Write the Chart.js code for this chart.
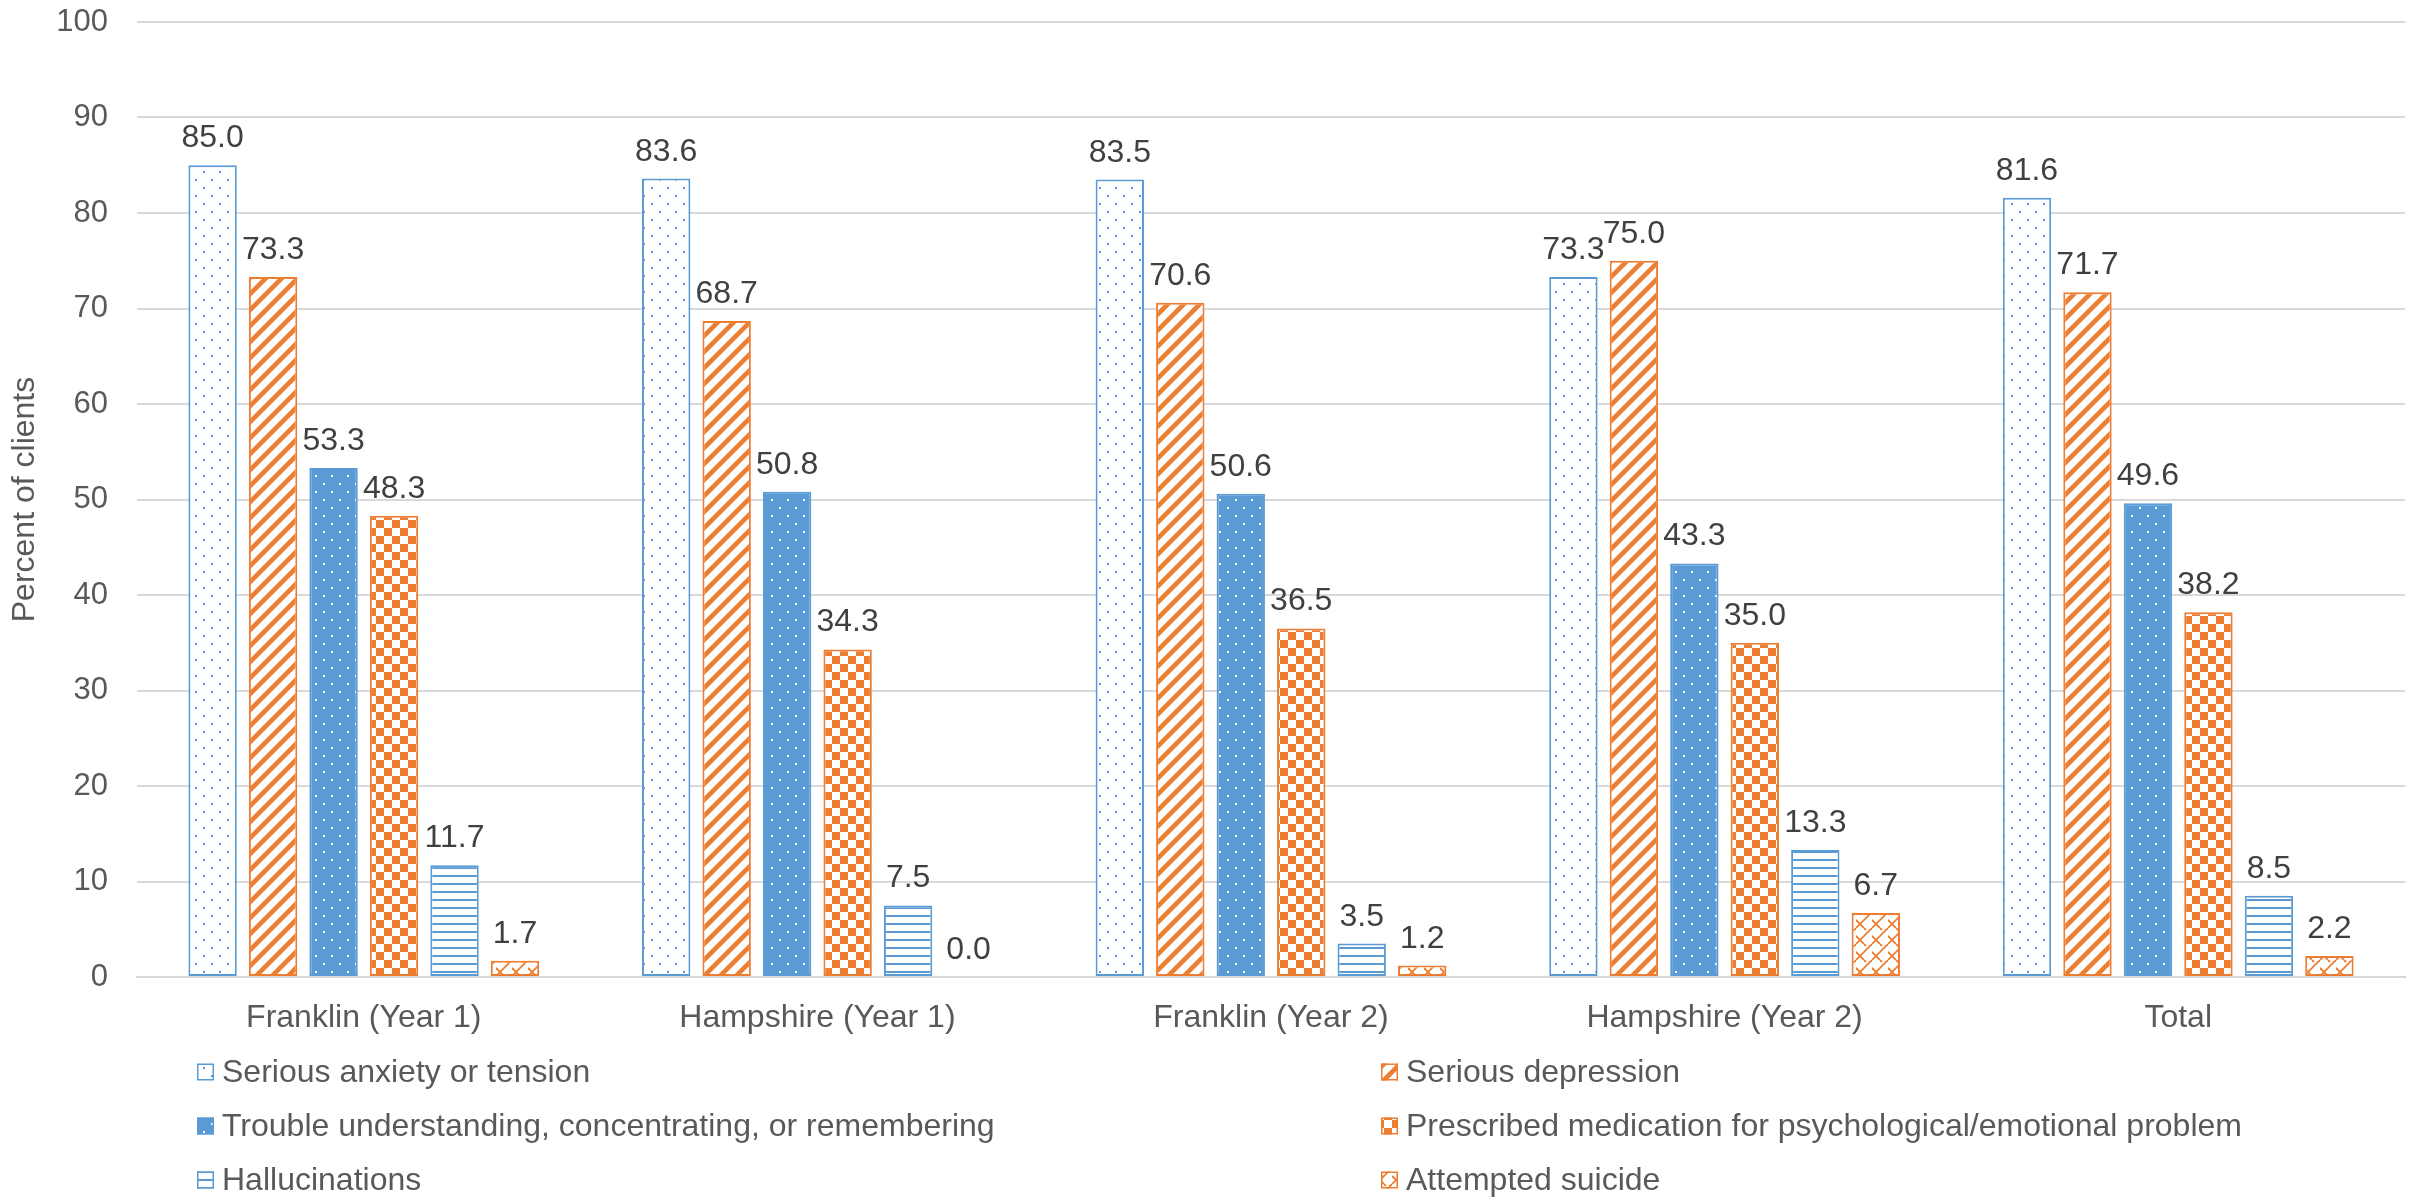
<!DOCTYPE html>
<html>
<head>
<meta charset="utf-8">
<title>Mental health indicators by site</title>
<script src="https://cdn.jsdelivr.net/npm/chart.js@4/dist/chart.umd.min.js"></script>
<style>
  html, body { margin: 0; padding: 0; background: #ffffff; }
  #wrap { width: 2423px; height: 1197px; }
</style>
</head>
<body>
<div id="wrap"><canvas id="chart" width="2423" height="1197"></canvas></div>
<script>
// Sites / years shown along the x axis
const categories = ['Franklin (Year 1)', 'Hampshire (Year 1)', 'Franklin (Year 2)', 'Hampshire (Year 2)', 'Total'];

// Percent of clients reporting each problem
const anxiety        = [85.0, 83.6, 83.5, 73.3, 81.6];
const depression     = [73.3, 68.7, 70.6, 75.0, 71.7];
const trouble        = [53.3, 50.8, 50.6, 43.3, 49.6];
const medication     = [48.3, 34.3, 36.5, 35.0, 38.2];
const hallucinations = [11.7, 7.5, 3.5, 13.3, 8.5];
const suicide        = [1.7, 0.0, 1.2, 6.7, 2.2];

const seriesLabels = [
  'Serious anxiety or tension',
  'Serious depression',
  'Trouble understanding, concentrating, or remembering',
  'Prescribed medication for psychological/emotional problem',
  'Hallucinations',
  'Attempted suicide'
];

const yMin = 0, yMax = 100, yStep = 10;
const yTitle = 'Percent of clients';

const BLUE = '#5b9bd5';
const ORANGE = '#ed7d31';
const FONT = '"Liberation Sans", Arial, sans-serif';

// ---- fill patterns -------------------------------------------------------
function tile(draw) {
  const c = document.createElement('canvas');
  c.width = 16; c.height = 16;
  const g = c.getContext('2d');
  draw(g);
  return document.getElementById('chart').getContext('2d').createPattern(c, 'repeat');
}

const patDots = tile(g => {
  g.fillStyle = '#fff'; g.fillRect(0, 0, 16, 16);
  g.fillStyle = BLUE;
  g.fillRect(3, 3, 2, 2); g.fillRect(11, 11, 2, 2);
});
const patStripes = tile(g => {
  g.fillStyle = '#fff'; g.fillRect(0, 0, 16, 16);
  g.strokeStyle = ORANGE; g.lineWidth = 4.6; g.lineCap = 'square';
  for (let k = -1; k <= 1; k++) {
    g.beginPath(); g.moveTo(k * 16 - 2, 18); g.lineTo(k * 16 + 18, -2); g.stroke();
  }
});
const patSolidDots = tile(g => {
  g.fillStyle = BLUE; g.fillRect(0, 0, 16, 16);
  g.fillStyle = '#fff';
  g.fillRect(3, 3, 2, 2); g.fillRect(11, 11, 2, 2);
});
const patChecker = tile(g => {
  g.fillStyle = '#fff'; g.fillRect(0, 0, 16, 16);
  g.fillStyle = ORANGE;
  g.fillRect(0, 0, 8, 8); g.fillRect(8, 8, 8, 8);
});
const patHLines = tile(g => {
  g.fillStyle = '#fff'; g.fillRect(0, 0, 16, 16);
  g.fillStyle = BLUE;
  g.fillRect(0, 3, 16, 2); g.fillRect(0, 11, 16, 2);
});
// trellis of up-diagonals with short down-strokes
const patShingle = tile(g => {
  g.fillStyle = '#fff'; g.fillRect(0, 0, 16, 16);
  g.strokeStyle = ORANGE; g.lineWidth = 1.8;
  for (let k = -1; k <= 1; k++) {
    g.beginPath(); g.moveTo(k * 16, 16); g.lineTo(k * 16 + 16, 0); g.stroke();
  }
  g.beginPath(); g.moveTo(0, 8); g.lineTo(8, 16); g.stroke();
  g.beginPath(); g.moveTo(8, 0); g.lineTo(10, 2); g.stroke();
});

const seriesData = [anxiety, depression, trouble, medication, hallucinations, suicide];
const fills = [patDots, patStripes, patSolidDots, patChecker, patHLines, patShingle];
const strokes = [BLUE, ORANGE, BLUE, ORANGE, BLUE, ORANGE];

const datasets = seriesData.map((d, i) => ({
  label: seriesLabels[i],
  data: d,
  backgroundColor: fills[i],
  borderColor: strokes[i],
  borderWidth: 2,
  borderSkipped: false,
  categoryPercentage: 0.8,
  barPercentage: 0.8
}));

// ---- value labels above each bar ----------------------------------------
const valueLabels = {
  id: 'valueLabels',
  afterDatasetsDraw(chart) {
    const ctx = chart.ctx;
    ctx.save();
    ctx.font = '32px ' + FONT;
    ctx.fillStyle = '#404040';
    ctx.textAlign = 'center';
    ctx.textBaseline = 'alphabetic';
    chart.data.datasets.forEach((ds, i) => {
      chart.getDatasetMeta(i).data.forEach((bar, j) => {
        ctx.fillText(ds.data[j].toFixed(1), bar.x, bar.y - 18);
      });
    });
    ctx.restore();
  }
};

// ---- two-column legend under the axis ------------------------------------
const gridLegend = {
  id: 'gridLegend',
  afterDraw(chart) {
    const ctx = chart.ctx;
    const colX = [197, 1381];
    const rowY = [1072, 1126, 1180];
    ctx.save();
    ctx.font = '32px ' + FONT;
    ctx.textBaseline = 'middle';
    ctx.textAlign = 'left';
    chart.data.datasets.forEach((ds, i) => {
      const x = colX[i % 2];
      const y = rowY[Math.floor(i / 2)];
      ctx.fillStyle = ds.backgroundColor;
      ctx.fillRect(x, y - 8.5, 17, 17);
      ctx.strokeStyle = ds.borderColor;
      ctx.lineWidth = 1.5;
      ctx.strokeRect(x + 0.75, y - 7.75, 15.5, 15.5);
      ctx.fillStyle = '#595959';
      ctx.fillText(ds.label, x + 25, y + 1);
    });
    ctx.restore();
  }
};

new Chart(document.getElementById('chart'), {
  type: 'bar',
  data: { labels: categories, datasets },
  options: {
    responsive: false,
    animation: false,
    layout: { padding: { top: 22, right: 18, bottom: 160, left: 0 } },
    plugins: {
      legend: { display: false },
      tooltip: { enabled: false }
    },
    scales: {
      x: {
        grid: { display: false, drawTicks: false },
        border: { display: true, color: '#d9d9d9', width: 2 },
        ticks: { color: '#595959', font: { family: FONT, size: 32 }, padding: 22, maxRotation: 0 },
        afterFit(scale) { scale.height = 60; }
      },
      y: {
        min: yMin, max: yMax,
        ticks: { stepSize: yStep, color: '#595959', font: { family: FONT, size: 31 }, padding: 29 },
        grid: { color: '#d9d9d9', lineWidth: 2, drawTicks: false },
        border: { display: false },
        title: {
          display: true, text: yTitle, color: '#595959',
          font: { family: FONT, size: 32 }, padding: { top: 6, bottom: 0 }
        },
        afterFit(scale) {
          scale.width = 137;
          scale.paddingTop = 0;
          scale.paddingBottom = 0;
        }
      }
    }
  },
  plugins: [valueLabels, gridLegend]
});
</script>
</body>
</html>
